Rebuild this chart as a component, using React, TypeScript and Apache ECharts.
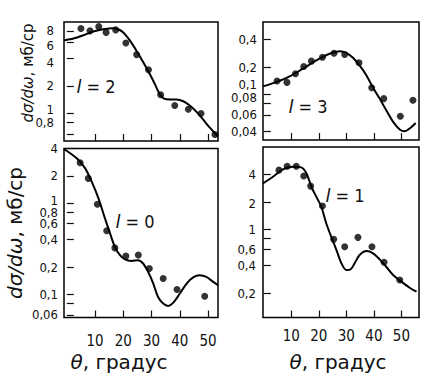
import React, { useEffect, useRef } from 'react';
import * as echarts from 'echarts';

// ---- data ----
const X_TICKS = [10, 20, 30, 40, 50];

// l = 2 (top-left)
const pts2Theta = [5.0, 8.2, 11.3, 13.9, 17.3, 20.9, 24.7, 28.9, 33.2, 38.2, 43.0, 47.5, 52.4];
const pts2 = [8.5, 8.0, 8.9, 7.7, 8.2, 5.9, 4.4, 3.0, 1.6, 1.22, 1.11, 1.0, 0.59];
const curve2Theta = [-1, 2.35, 5.9, 9.4, 12.9, 16.5, 18.2, 20.0, 22.4, 24.7, 27.1, 29.4, 31.2, 32.9, 34.4, 36.5, 38.8, 41.2, 43.5, 45.9, 48.2, 50.6, 53.5];
const curve2 = [6.3, 6.59, 7.16, 7.87, 8.34, 8.55, 8.34, 7.67, 6.21, 4.82, 3.6, 2.68, 2.08, 1.62, 1.45, 1.42, 1.42, 1.36, 1.22, 1.04, 0.86, 0.7, 0.56];
const yTicks2 = [0.6, 0.8, 1, 2, 4, 6, 8];
const yLabels2 = [0.8, 1, 2, 4, 6, 8];

// l = 3 (top-right)
const pts3Theta = [4.8, 8.4, 11.5, 14.5, 17.3, 21.3, 25.5, 29.4, 34.6, 39.2, 43.6, 49.6, 54.2];
const pts3 = [0.141, 0.136, 0.169, 0.203, 0.232, 0.256, 0.283, 0.274, 0.223, 0.119, 0.0905, 0.058, 0.0867];
const curve3Theta = [-0.3, 4.5, 9.4, 14.2, 19.1, 23.9, 27.6, 30.0, 32.4, 34.8, 37.3, 39.7, 42.1, 44.5, 47.0, 49.4, 51.2, 53.0, 55.2];
const curve3 = [0.123, 0.137, 0.158, 0.192, 0.236, 0.279, 0.298, 0.286, 0.252, 0.208, 0.162, 0.119, 0.0905, 0.0675, 0.0504, 0.0417, 0.0399, 0.0427, 0.0491];
const yTicks3 = [0.04, 0.06, 0.08, 0.1, 0.2, 0.4];
const yLabels3 = [0.04, 0.06, 0.08, 0.1, 0.2, 0.4];

// l = 0 (bottom-left)
const pts0Theta = [4.7, 7.6, 10.8, 14.1, 17.0, 20.9, 25.3, 29.2, 34.1, 39.0, 48.8];
const pts0 = [2.79, 1.88, 0.98, 0.5, 0.325, 0.264, 0.272, 0.193, 0.15, 0.1135, 0.0958];
const curve0Theta = [-1, 3.5, 6.5, 8.8, 11.2, 13.5, 15.3, 17.0, 18.8, 20.6, 22.9, 25.3, 27.0, 28.8, 30.6, 32.3, 34.1, 35.9, 37.6, 40.0, 42.4, 44.7, 47.0, 49.4, 51.8, 53.5];
const curve0 = [3.95, 3.12, 2.42, 1.73, 1.135, 0.684, 0.468, 0.333, 0.27, 0.2425, 0.234, 0.238, 0.219, 0.177, 0.132, 0.094, 0.0796, 0.075, 0.0809, 0.1026, 0.132, 0.154, 0.163, 0.156, 0.1375, 0.1265];
const yTicks0 = [0.06, 0.08, 0.1, 0.2, 0.4, 0.6, 0.8, 1, 2, 4];
const yLabels0 = [0.06, 0.1, 0.2, 0.4, 0.6, 0.8, 1, 2, 4];

// l = 1 (bottom-right)
const pts1Theta = [5.5, 8.5, 11.8, 14.5, 17.0, 21.3, 25.4, 29.4, 34.2, 39.3, 43.7, 49.4];
const pts1 = [4.46, 4.93, 4.93, 3.84, 2.98, 1.8, 0.777, 0.645, 0.817, 0.645, 0.435, 0.279];
const curve1Theta = [-0.3, 3.3, 6.9, 10.6, 13.6, 15.5, 17.3, 19.1, 20.9, 22.7, 24.5, 26.4, 28.2, 30.0, 31.6, 33.0, 34.8, 37.3, 39.7, 42.1, 44.5, 47.0, 50.0, 53.0, 55.5];
const curve1 = [3.19, 3.77, 4.54, 4.85, 4.78, 4.1, 2.93, 2.27, 1.77, 1.16, 0.83, 0.593, 0.424, 0.358, 0.365, 0.424, 0.523, 0.578, 0.546, 0.469, 0.389, 0.316, 0.267, 0.229, 0.207];
const yTicks1 = [0.2, 0.4, 0.6, 0.8, 1, 2, 4];
const yLabels1 = [0.2, 0.4, 0.6, 1, 2, 4];

const Y_TITLE = 'dσ/dω';
const Y_UNIT = ', мб/ср';
const X_TITLE_SYM = 'θ';
const X_TITLE = ', градус';

const FONT = '"Liberation Sans Narrow", "DejaVu Sans Condensed", "Liberation Sans", sans-serif';
const INK = '#111';
const LABEL_SIZE = 13;

const zip = (xs: number[], ys: number[]) => xs.map((x, i) => [x, ys[i]]);
const fmt = (v: number) => String(Number(Number(v).toPrecision(3))).replace('.', ',');
const near = (a: number, b: number) => Math.abs(a - b) < 1e-6;
const evens = (a: number[]) => a.filter((_, i) => i % 2 === 0);
const odds = (a: number[]) => a.filter((_, i) => i % 2 === 1);

// label nudges (px, + = down) as printed in the reference
type Shift = [number, number];
const shifts2: Shift[] = [[6, 3], [4, 4], [1, -4]];
const shifts3: Shift[] = [[0.1, -10], [0.08, -6]];
const shifts0: Shift[] = [[1, -3]];
const shifts1: Shift[] = [[2, 2]];

function xAxis(gridIndex: number, min: number, max: number, showLabels: boolean, margin: number) {
  return {
    type: 'value',
    gridIndex,
    min,
    max,
    axisLine: { show: false },
    splitLine: { show: false },
    axisTick: { show: true, inside: true, length: 7, customValues: X_TICKS, lineStyle: { color: INK, width: 1.2 } },
    axisLabel: {
      show: showLabels,
      customValues: X_TICKS,
      showMinLabel: true,
      showMaxLabel: true,
      margin,
      color: INK,
      fontSize: 15,
      fontFamily: FONT,
    },
  };
}

// Labels are split over two coincident log axes (same grid, same range) so that
// neighbouring labels of one axis never collide and none gets auto-hidden.
function yAxis(gridIndex: number, min: number, max: number, ticks: number[] | null, labels: number[], margin: number, shifts: Shift[]) {
  const rich: Record<string, any> = { a: { fontSize: LABEL_SIZE, fontFamily: FONT, color: INK } };
  shifts.forEach(([, dy], k) => {
    rich['s' + k] = { fontSize: 1, lineHeight: Math.abs(dy) * 2 };
  });
  return {
    type: 'log',
    logBase: 10,
    gridIndex,
    position: 'left',
    offset: 0,
    min,
    max,
    axisLine: { show: false },
    splitLine: { show: false },
    minorTick: { show: false },
    axisTick: ticks
      ? { show: true, inside: true, length: 7, customValues: ticks, lineStyle: { color: INK, width: 1.2 } }
      : { show: false },
    axisLabel: {
      customValues: labels,
      margin,
      color: INK,
      fontSize: LABEL_SIZE,
      fontFamily: FONT,
      formatter: (v: number) => {
        const t = fmt(v);
        const k = shifts.findIndex(([sv]) => near(sv, v));
        if (k < 0) return t;
        const dy = shifts[k][1];
        return dy < 0 ? '{a|' + t + '}\n{s' + k + '| }' : '{s' + k + '| }\n{a|' + t + '}';
      },
      rich,
    },
  };
}

function curveSeries(i: number, xs: number[], ys: number[]) {
  return {
    type: 'line',
    xAxisIndex: i,
    yAxisIndex: i,
    data: zip(xs, ys),
    showSymbol: false,
    smooth: 0.3,
    silent: true,
    lineStyle: { color: '#000', width: 2 },
  };
}

function pointSeries(i: number, xs: number[], ys: number[]) {
  return {
    type: 'scatter',
    xAxisIndex: i,
    yAxisIndex: i,
    data: zip(xs, ys),
    symbol: 'circle',
    symbolSize: 7,
    silent: true,
    itemStyle: { color: '#000' },
  };
}

const gridStyle = { show: true, borderColor: '#000', borderWidth: 1.5, backgroundColor: 'transparent', containLabel: false };

function annotation(x: number, y: number, n: string) {
  return {
    type: 'text',
    x,
    y,
    style: {
      text: '{i|l} = ' + n,
      rich: { i: { fontStyle: 'italic', fontSize: 18, fontFamily: '"DejaVu Sans", sans-serif', fill: INK } },
      fontSize: 18,
      fontFamily: '"DejaVu Sans Condensed", "Liberation Sans", sans-serif',
      fill: INK,
      align: 'center',
      verticalAlign: 'middle',
    },
  };
}

function yTitle(x: number, y: number, size: number) {
  return {
    type: 'text',
    x,
    y,
    rotation: Math.PI / 2,
    style: {
      text: '{i|' + Y_TITLE + '}' + Y_UNIT,
      rich: { i: { fontStyle: 'italic', fontSize: size, fontFamily: '"DejaVu Sans", sans-serif', fill: INK } },
      fontSize: size,
      fontFamily: '"DejaVu Sans", sans-serif',
      fill: INK,
      align: 'center',
      verticalAlign: 'middle',
    },
  };
}

function xTitle(x: number, y: number) {
  return {
    type: 'text',
    x,
    y,
    style: {
      text: '{i|' + X_TITLE_SYM + '}' + X_TITLE,
      rich: { i: { fontStyle: 'italic', fontSize: 20, fontFamily: '"DejaVu Sans", sans-serif', fill: INK } },
      fontSize: 20,
      fontFamily: '"DejaVu Sans", sans-serif',
      fill: INK,
      align: 'center',
      verticalAlign: 'middle',
    },
  };
}

export default function App() {
  const ref = useRef<HTMLDivElement>(null);
  useEffect(() => {
    if (!ref.current) return;
    const chart = echarts.init(ref.current, undefined, { renderer: 'svg' });
    chart.setOption({
      animation: false,
      backgroundColor: '#fff',
      grid: [
        { ...gridStyle, left: 64, top: 22, width: 154, height: 119 },
        { ...gridStyle, left: 263, top: 22, width: 156, height: 118 },
        { ...gridStyle, left: 64, top: 148.5, width: 154, height: 169 },
        { ...gridStyle, left: 263, top: 147, width: 156, height: 170.5 },
      ],
      xAxis: [
        xAxis(0, -1, 53.5, false, 10),
        xAxis(1, -0.3, 56.4, false, 10),
        xAxis(2, -1, 53.5, true, 16),
        xAxis(3, -0.3, 56.4, true, 11),
      ],
      yAxis: [
        yAxis(0, 0.5, 10, yTicks2, evens(yLabels2), 10, shifts2),
        yAxis(1, 0.032, 0.62, yTicks3, evens(yLabels3), 6, shifts3),
        yAxis(2, 0.056, 4, yTicks0, evens(yLabels0), 6, shifts0),
        yAxis(3, 0.108, 8, yTicks1, evens(yLabels1), 7, shifts1),
        yAxis(0, 0.5, 10, null, odds(yLabels2), 10, shifts2),
        yAxis(1, 0.032, 0.62, null, odds(yLabels3), 6, shifts3),
        yAxis(2, 0.056, 4, null, odds(yLabels0), 6, shifts0),
        yAxis(3, 0.108, 8, null, odds(yLabels1), 7, shifts1),
      ],
      series: [
        curveSeries(0, curve2Theta, curve2),
        pointSeries(0, pts2Theta, pts2),
        curveSeries(1, curve3Theta, curve3),
        pointSeries(1, pts3Theta, pts3),
        curveSeries(2, curve0Theta, curve0),
        pointSeries(2, pts0Theta, pts0),
        curveSeries(3, curve1Theta, curve1),
        pointSeries(3, pts1Theta, pts1),
      ],
      graphic: [
        yTitle(28, 73, 15),
        yTitle(15, 233, 20),
        xTitle(119, 362),
        xTitle(338, 362),
        annotation(96, 86, '2'),
        annotation(308, 106, '3'),
        annotation(135, 221, '0'),
        annotation(345, 195, '1'),
      ],
    });
    return () => chart.dispose();
  }, []);
  return <div ref={ref} style={{ position: 'fixed', left: 0, top: 0, width: 443, height: 377 }} />;
}
